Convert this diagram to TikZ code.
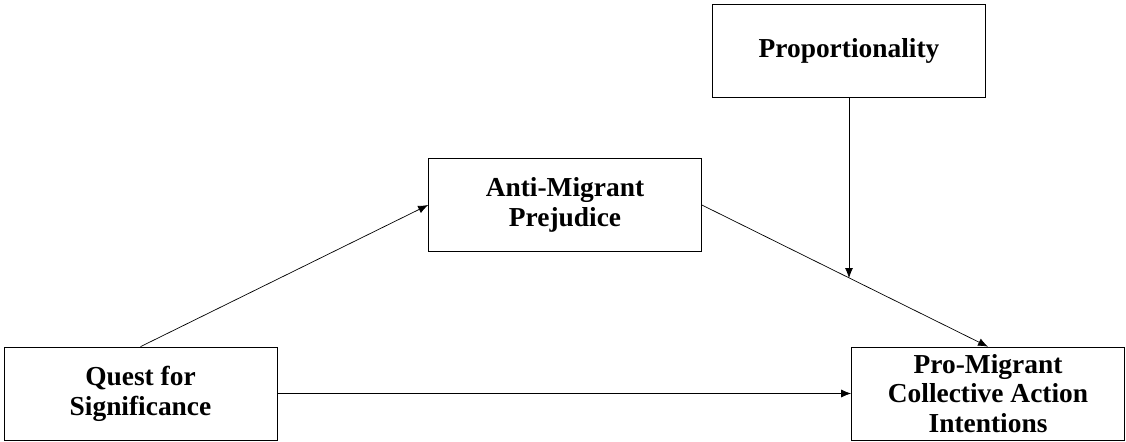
\documentclass[tikz,border=0pt]{standalone}
\usepackage{fontspec}
\setmainfont{Liberation Serif}
\usepackage{tikz}
\usetikzlibrary{arrows.meta}

\begin{document}
\begin{tikzpicture}[->,>={Latex[length=2mm,width=1.6mm]},auto,
			thin,main node/.style={rectangle,draw,fill=white,align=center,
				font=\fontsize{15.6}{17}\selectfont\bfseries,
				minimum width=5.46cm,minimum height=1.86cm},inner sep=1pt]
			
			\useasboundingbox (0,0) rectangle (22.52,8.82);
			
			\node[main node] (P) at (16.98,7.80) {Proportionality};
			\node[main node] (A) at (11.30,4.72) {Anti-Migrant\\Prejudice};
			\node[main node] (Q) at (2.81,0.95) {Quest for\\Significance};
			\node[main node] (R) at (19.76,0.95) {Pro-Migrant\\Collective Action\\Intentions};
			
			\path[->,every node/.style={font=\sffamily\tiny}]
			(Q.north) edge (A.west)
			(A.east) edge coordinate[pos=0.516] (M) (R.north)
			(Q) edge (R);
			\draw[->] (P.south) -- (P.south |- M);
		\end{tikzpicture}
\end{document}
